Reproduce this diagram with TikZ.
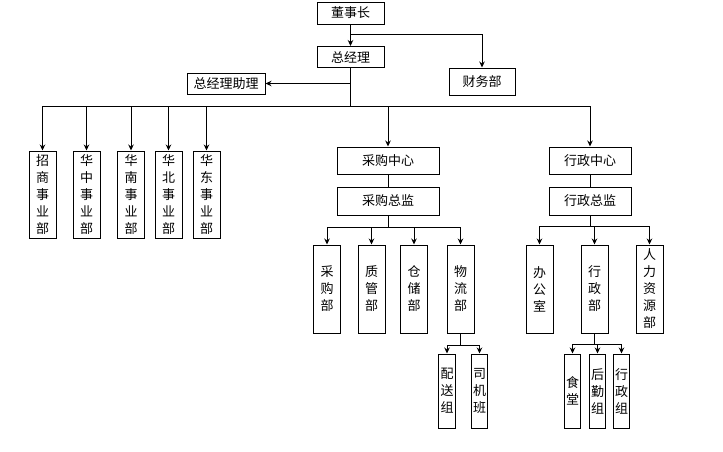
\documentclass[tikz,border=0pt]{standalone}
\usepackage{fontspec}
\newfontfamily\cjk{Noto Sans CJK SC}
\usetikzlibrary{arrows.meta}
\begin{document}
\begin{tikzpicture}[x=1pt,y=-1pt,
  every node/.style={font=\cjk\fontsize{13}{17}\selectfont},
  hbox/.style={draw,line width=1pt,inner sep=0pt,minimum height=27pt},
  vbox/.style={draw,line width=1pt,inner sep=0pt,align=center,minimum width=27pt,minimum height=88pt},
  nbox/.style={draw,line width=1pt,inner sep=0pt,align=center,minimum width=16.5pt,minimum height=74pt},
  ln/.style={line width=1pt},
  arr/.style={line width=1pt,-{Stealth[length=6pt,width=5.5pt]}}]
\useasboundingbox (0,0) rectangle (723,451);
% top
\node[hbox,minimum width=67pt,minimum height=22pt] (dsz) at (350.5,13) {董事长};
\node[hbox,minimum width=67pt,minimum height=21pt] (zjl) at (350.5,57) {总经理};
\node[hbox,minimum width=66pt] (cwb) at (482,81.5) {财务部};
\node[hbox,minimum width=78pt,minimum height=21pt] (zl) at (226,83.5) {总经理助理};
% business units
\node[vbox,minimum height=87pt] (zs) at (42.5,194.5) {招\\商\\事\\业\\部};
\node[vbox,minimum height=87pt] (hz) at (86.5,194.5) {华\\中\\事\\业\\部};
\node[vbox,minimum height=87pt] (hn) at (131,194.5) {华\\南\\事\\业\\部};
\node[vbox,minimum height=87pt] (hb) at (168.5,194.5) {华\\北\\事\\业\\部};
\node[vbox,minimum height=87pt] (hd) at (206.5,194.5) {华\\东\\事\\业\\部};
% purchasing
\node[hbox,minimum width=102pt] (cgzx) at (388,160.5) {采购中心};
\node[hbox,minimum width=102pt,minimum height=28pt] (cgzj) at (388,201) {采购总监};
\node[vbox] (cgb) at (327,289) {采\\购\\部};
\node[vbox] (zgb) at (371.5,289) {质\\管\\部};
\node[vbox] (ccb) at (414,289) {仓\\储\\部};
\node[vbox] (wlb) at (460.5,289) {物\\流\\部};
\node[nbox] (psz) at (447,391) {配\\送\\组};
\node[nbox] (sjb) at (479.5,391) {司\\机\\班};
% administration
\node[hbox,minimum width=82pt] (xzzx) at (590,160.5) {行政中心};
\node[hbox,minimum width=82pt,minimum height=28pt] (xzzj) at (590,201) {行政总监};
\node[vbox] (bgs) at (539.5,289) {办\\公\\室};
\node[vbox] (xzb) at (594.5,289) {行\\政\\部};
\node[vbox] (rlzy) at (649.5,289) {人\\力\\资\\源\\部};
\node[nbox] (st) at (572.5,391) {食\\堂};
\node[nbox] (hqz) at (597.5,391) {后\\勤\\组};
\node[nbox] (xzz) at (621.5,391) {行\\政\\组};
% coordinates of buses
\coordinate (b1) at (350.5,34);
\coordinate (b2) at (350.5,83.5);
\coordinate (b3) at (350.5,106);
\coordinate (b4) at (388,227);
\coordinate (b5) at (594.5,226);
\coordinate (b6) at (460.5,345);
\coordinate (b7) at (594.5,344);
% top connectors
\draw[arr] (dsz.south) -- (zjl.north);
\draw[arr] (b1) -| (cwb.north);
\draw[ln] (zjl.south) -- (b3);
\draw[arr] (b2) -- (zl.east);
\draw[ln] (zs.north |- b3) -- (xzzx.north |- b3);
\foreach \n in {zs,hz,hn,hb,hd,cgzx,xzzx}
  \draw[arr] (\n.north |- b3) -- (\n.north);
% purchasing connectors
\draw[ln] (cgzx.south) -- (cgzj.north);
\draw[ln] (cgzj.south) -- (b4);
\draw[ln] (cgb.north |- b4) -- (wlb.north |- b4);
\foreach \n in {cgb,zgb,ccb,wlb}
  \draw[arr] (\n.north |- b4) -- (\n.north);
\draw[ln] (wlb.south) -- (b6);
\draw[ln] (psz.north |- b6) -- (sjb.north |- b6);
\foreach \n in {psz,sjb}
  \draw[arr] (\n.north |- b6) -- (\n.north);
% administration connectors
\draw[ln] (xzzx.south) -- (xzzj.north);
\draw[ln] (xzzj.south |- xzzj.south) -- (xzzj.south |- b5);
\draw[ln] (bgs.north |- b5) -- (rlzy.north |- b5);
\foreach \n in {bgs,xzb,rlzy}
  \draw[arr] (\n.north |- b5) -- (\n.north);
\draw[ln] (xzb.south) -- (b7);
\draw[ln] (st.north |- b7) -- (xzz.north |- b7);
\foreach \n in {st,hqz,xzz}
  \draw[arr] (\n.north |- b7) -- (\n.north);
\end{tikzpicture}
\end{document}
